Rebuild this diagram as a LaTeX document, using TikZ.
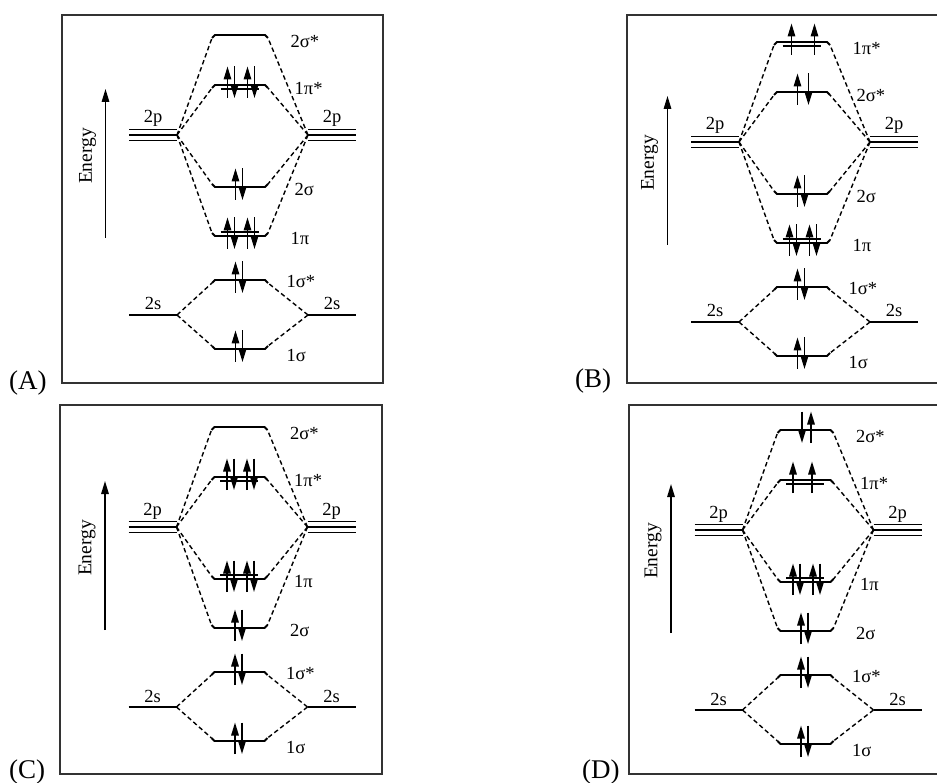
\documentclass[tikz,border=0pt]{standalone}
\usepackage{fontspec}
\setmainfont{Liberation Serif}
\usetikzlibrary{arrows.meta}

\begin{document}
\begin{tikzpicture}[x=1pt, y=-1pt, font=\fontsize{18.5}{21}\selectfont,
	frame/.style={draw=black!80, line width=1.6pt},
	lvl/.style={line width=1.8pt},
	conn/.style={line width=1.4pt, dash pattern=on 4.5pt off 3pt},
	spin/.style={line width=1.5pt, -{Triangle[length=13pt, width=7.5pt]}},
	mo/.style={anchor=west, inner sep=0pt},
	ao/.style={anchor=base, inner sep=0pt},
	tag/.style={anchor=base west, inner sep=0pt, font=\fontsize{27}{30}\selectfont}]
	\useasboundingbox (0,0) rectangle (937,783);

	% frames, atomic levels and MO skeleton
	\foreach \pan/\cx/\py/\bl/\bt/\br/\bb/\tx/\ty in {A/242.5/135/62/15/383/383/9/390, B/804.5/142/627/15/945/383/575/388, C/242/527/60/405/382/774/9/778, D/808/530/629/405/945/774/582/778}
	{
		\draw[frame] (\bl,\bt) rectangle (\br,\bb);
		\node[tag] (\pan-tag) at (\tx,\ty) {(\pan)};
		\begin{scope}[shift={(\cx,\py)}]
			\coordinate (\pan-pl) at (-65.5,0);
			\coordinate (\pan-pr) at (65.5,0);
			\coordinate (\pan-sl) at (-65.5,180);
			\coordinate (\pan-sr) at (65.5,180);
			\foreach \dy in {-5.5,0,5.5}
				\draw[lvl] (-113.5,\dy) -- (-65.5,\dy) (65.5,\dy) -- (113.5,\dy);
			\draw[lvl] (-113.5,180) -- (\pan-sl) (\pan-sr) -- (113.5,180);
			\node[ao] (\pan-2pl) at (-89.5,-12) {2p};
			\node[ao] (\pan-2pr) at (89.5,-12) {2p};
			\node[ao] (\pan-2sl) at (-89.5,175) {2s};
			\node[ao] (\pan-2sr) at (89.5,175) {2s};
			% energy axis
			\coordinate (\pan-e0) at (-137,103);
			\coordinate (\pan-e1) at (-137,-46);
			\draw[spin] (\pan-e0) -- (\pan-e1);
			\node[rotate=90, font=\fontsize{19.5}{22}\selectfont] (\pan-en) at (-155,21) {Energy};
			% slot / height / hook / source / label offset
			\foreach \s/\y/\h/\src/\lx/\ly in {1/-100/3/p/48/6, 2/-50/3/p/52/3, 3/52/-3/p/52/2, 4/101/-3/p/48/2, 5/145/3/s/44/1, 6/214/-3/s/44/6}
			{
				\coordinate (\pan-\s c) at (0,\y);
				\coordinate (\pan-\s l) at (-30.5,\y+\h);
				\coordinate (\pan-\s r) at (25.5,\y+\h);
				\coordinate (\pan-\s a) at (-22,\y+\h*4/3);
				\coordinate (\pan-\s b) at (16,\y+\h*4/3);
				\coordinate (\pan-\s t) at (\lx,\y+\ly);
				\draw[lvl] (\pan-\s l) -- ++(3,-\h) -- ++(50,0) -- (\pan-\s r);
				\draw[conn] (\pan-\src l) -- (\pan-\s l) (\pan-\src r) -- (\pan-\s r);
			}
		\end{scope}
	}

	% level names
	\foreach \pan/\labs in {A/{2σ*,1π*,2σ,1π,1σ*,1σ}, B/{1π*,2σ*,2σ,1π,1σ*,1σ}, C/{2σ*,1π*,1π,2σ,1σ*,1σ}, D/{2σ*,1π*,1π,2σ,1σ*,1σ}}
		\foreach \lab [count=\s] in \labs
			\node[mo] (\pan-\s m) at (\pan-\s t) {\lab};

	% second line of the pi levels
	\foreach \pan/\s in {A/2, A/4, B/1, B/4, C/2, C/3, D/2, D/3}
		\draw[lvl] (\pan-\s a) -- (\pan-\s b);

	% up spins: panel / slot / x
	\foreach \pan/\s/\x in {A/2/-15, A/2/5, A/3/-7, A/4/-15, A/4/5, A/5/-7, A/6/-7,
		B/1/-13, B/1/10, B/2/-7, B/3/-7, B/4/-15, B/4/5, B/5/-7, B/6/-7,
		C/2/-15, C/2/5, C/3/-15, C/3/5, C/4/-7, C/5/-7, C/6/-7,
		D/1/3, D/2/-15, D/2/4, D/3/-15, D/3/5, D/4/-7, D/5/-7, D/6/-7}
		\draw[spin] ([shift={(\x,13)}]\pan-\s c) -- ++(0,-31.5);
	% down spins
	\foreach \pan/\s/\x in {A/2/-8, A/2/12, A/3/0, A/4/-8, A/4/12, A/5/0, A/6/0,
		B/2/4, B/3/0, B/4/-8, B/4/12, B/5/0, B/6/0,
		C/2/-8, C/2/12, C/3/-8, C/3/12, C/4/0, C/5/0, C/6/0,
		D/1/-6, D/3/-8, D/3/12, D/4/0, D/5/0, D/6/0}
		\draw[spin] ([shift={(\x,-18.5)}]\pan-\s c) -- ++(0,31.5);
\end{tikzpicture}
\end{document}
